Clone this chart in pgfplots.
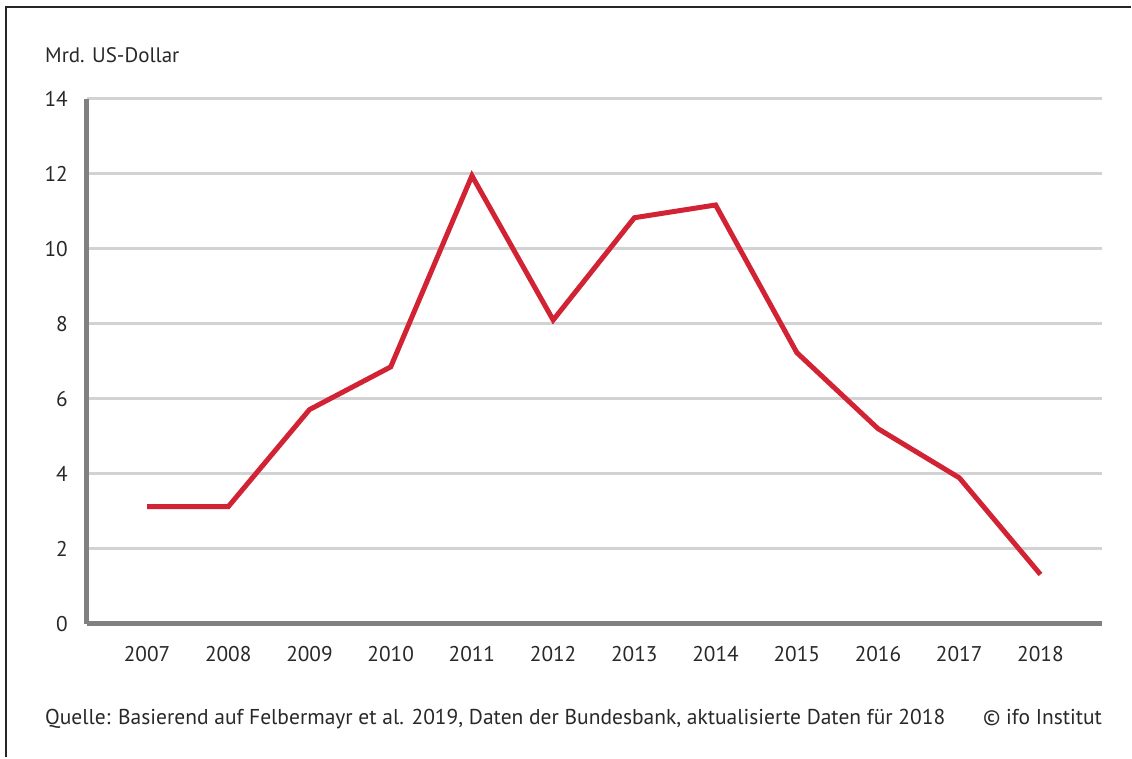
\documentclass[border=0pt]{standalone}
\usepackage{pgfplots}
\pgfplotsset{compat=1.18}
\usepackage{fontspec}
\setmainfont{PT Sans}
\definecolor{ifored}{RGB}{210,35,52}
\definecolor{axgray}{RGB}{128,128,130}
\definecolor{gridgray}{RGB}{210,210,212}
\definecolor{txt}{RGB}{40,40,40}

\begin{document}
\begin{tikzpicture}[x=1pt,y=1pt]
\path (0,0) rectangle (1132,-758);
\draw[line width=1.6pt, color=black!85] (6,-758) -- (6,-7) -- (1132,-7);
\begin{axis}[
    at={(87pt,-624pt)}, anchor=south west,
    scale only axis, width=1016pt, height=525pt,
    xmin=2006.26, xmax=2018.76,
    ymin=0, ymax=14,
    clip=false,
    axis lines*=left,
    axis line style={line width=5pt, color=axgray},
    ymajorgrids,
    grid style={line width=3pt, color=gridgray},
    xtick={2007,...,2018},
    ytick={0,2,...,14},
    major tick length=0pt,
    /pgf/number format/assume math mode=true,
    xticklabel={\pgfmathprintnumber[1000 sep={}]{\tick}},
    tick label style={font=\fontsize{21.3}{25}\selectfont, text=txt},
    xticklabel style={anchor=north, inner sep=0pt, yshift=-23pt},
    yticklabel style={anchor=east, inner sep=0pt, xshift=-19pt},
]
\addplot[ifored, line width=5pt, line join=miter, no marks] coordinates {
(2007,3.12) (2008,3.12) (2009,5.71) (2010,6.85) (2011,11.95) (2012,8.10)
(2013,10.83) (2014,11.17) (2015,7.23) (2016,5.20) (2017,3.89) (2018,1.31)
};
\end{axis}
\node[anchor=base west, inner sep=0pt, text=txt, font=\fontsize{21}{25}\selectfont] at (45,-63) {Mrd. US-Dollar};
\node[anchor=base west, inner sep=0pt, text=txt, font=\fontsize{21.5}{25}\selectfont] at (45,-725) {Quelle: Basierend auf Felbermayr et al. 2019, Daten der Bundesbank, aktualisierte Daten für 2018};
\node[anchor=base east, inner sep=0pt, text=txt, font=\fontsize{21.5}{25}\selectfont] at (1103,-725) {© ifo Institut};
\end{tikzpicture}
\end{document}
